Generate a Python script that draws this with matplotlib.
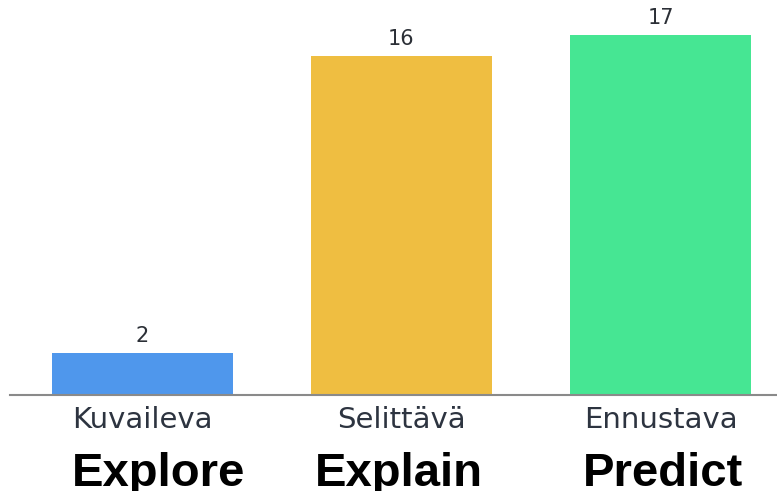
import matplotlib.pyplot as plt

categories = ['Kuvaileva', 'Selittävä', 'Ennustava']
english = ['Explore', 'Explain', 'Predict']
values = [2, 16, 17]
colors = ['#4F97EC', '#EFBE41', '#46E693']

fig = plt.figure(figsize=(7.77, 4.91), dpi=100)
ax = fig.add_axes([0, 96 / 491, 1, 395 / 491])

xs = range(len(values))
bars = ax.bar(xs, values, width=0.70, color=colors)

ax.set_xlim(-0.55, 2.45)
ax.set_ylim(0, 18.63)
for s in ax.spines.values():
    s.set_visible(False)
ax.set_xticks([])
ax.set_yticks([])
ax.axhline(0, xmin=10 / 777, xmax=1, color='#8a8a8a', lw=1.5, clip_on=False)

for x, v in zip(xs, values):
    ax.text(x, v + 0.32, str(v), ha='center', va='bottom', fontsize=15,
            color='#2b2f36')

# the big english labels sit a bit off the bar centres
shift = [0.062, -0.01, 0.008]
tr = ax.get_xaxis_transform()
for x, c, e, d in zip(xs, categories, english, shift):
    ax.text(x, -33 / 395, c, transform=tr, ha='center', va='baseline',
            fontsize=21, color='#2d3440')
    ax.text(x + d, -91 / 395, e, transform=tr, ha='center', va='baseline',
            fontsize=34, fontweight='bold', family='Liberation Sans',
            color='black')

plt.savefig('out.png', dpi=100)
plt.close(fig)
